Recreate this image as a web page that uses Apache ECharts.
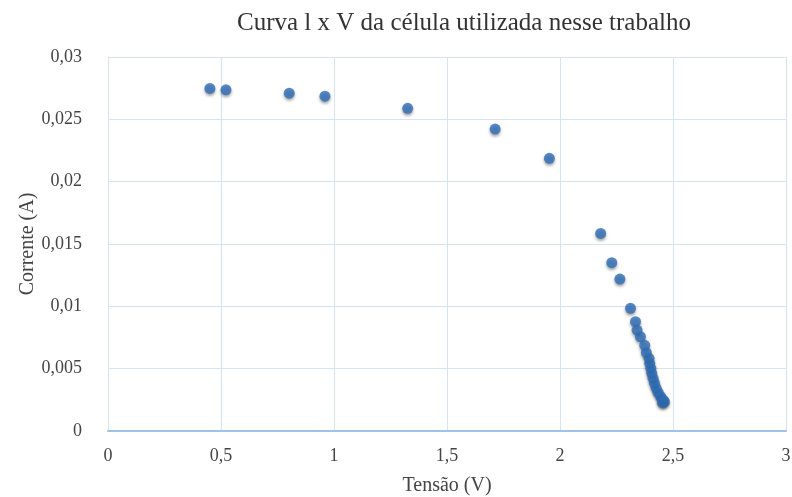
<!DOCTYPE html>
<html>
<head>
<meta charset="utf-8">
<script src="https://cdn.jsdelivr.net/npm/echarts@6/dist/echarts.min.js"></script>
<style>
  html, body { margin: 0; padding: 0; background: #fff; }
  #chart { width: 792px; height: 497px; }
</style>
</head>
<body>
<div id="chart"></div>
<script>
// dados
var tensao = [0.451, 0.522, 0.802, 0.960, 1.326, 1.713, 1.953, 2.180, 2.229, 2.265, 2.312,
  2.334, 2.341, 2.356, 2.375, 2.382, 2.394, 2.397, 2.402, 2.406, 2.412, 2.418, 2.426,
  2.435, 2.446, 2.456, 2.462, 2.453];
var corrente = [0.02748, 0.02737, 0.0271, 0.02686, 0.02588, 0.02422, 0.02187, 0.01585, 0.0135,
  0.01219, 0.00984, 0.00877, 0.0081, 0.00756, 0.00687, 0.00628, 0.00583, 0.00543, 0.00503,
  0.00463, 0.00423, 0.00383, 0.00342, 0.00307, 0.00275, 0.00249, 0.00235, 0.00227];

var pontos = tensao.map(function (v, i) { return [v, corrente[i]]; });

function virgula(val) {
  return String(val).replace('.', ',');
}

var fonte = '"Liberation Serif", "DejaVu Serif", serif';
var ivChart = echarts.init(document.getElementById('chart'));
var ivOption = {
  animation: false,
  textStyle: { fontFamily: fonte },
  title: {
    text: 'Curva l x V da célula utilizada nesse trabalho',
    left: 459,
    textAlign: 'center',
    top: 6,
    textStyle: { fontFamily: fonte, fontSize: 25, fontWeight: 'normal', color: '#333' }
  },
  grid: { left: 108, right: 6, top: 57, bottom: 66, outerBoundsMode: 'none', containLabel: false },
  xAxis: {
    type: 'value',
    min: 0,
    max: 3,
    interval: 0.5,
    name: 'Tensão (V)',
    nameLocation: 'middle',
    nameGap: 45,
    nameMoveOverlap: false,
    nameTextStyle: { fontFamily: fonte, fontSize: 20, color: '#444' },
    axisLine: { show: true, onZero: false, lineStyle: { color: '#9DC3E6', width: 2 } },
    axisTick: { show: false },
    axisLabel: { margin: 16, fontSize: 18, color: '#444', formatter: virgula },
    splitLine: { show: true, lineStyle: { color: '#D6E3F3', width: 1 } }
  },
  yAxis: {
    type: 'value',
    min: 0,
    max: 0.03,
    interval: 0.005,
    name: 'Corrente (A)',
    nameLocation: 'middle',
    nameGap: 70,
    nameMoveOverlap: false,
    nameTextStyle: { fontFamily: fonte, fontSize: 20, color: '#444' },
    axisLine: { show: true, lineStyle: { color: '#D6E3F3', width: 1 } },
    axisTick: { show: false },
    axisLabel: { margin: 26, fontSize: 18, color: '#444', formatter: virgula },
    splitLine: { show: true, lineStyle: { color: '#D6E3F3', width: 1 } }
  },
  series: [{
    name: 'I x V',
    type: 'scatter',
    symbol: 'circle',
    symbolSize: 11,
    data: pontos,
    itemStyle: {
      color: '#2F6FB8',
      shadowBlur: 3,
      shadowColor: 'rgba(0,0,0,0.45)',
      shadowOffsetY: 2
    }
  }]
};
ivChart.setOption(ivOption);
window.addEventListener('resize', ivChart.resize);
</script>
</body>
</html>
